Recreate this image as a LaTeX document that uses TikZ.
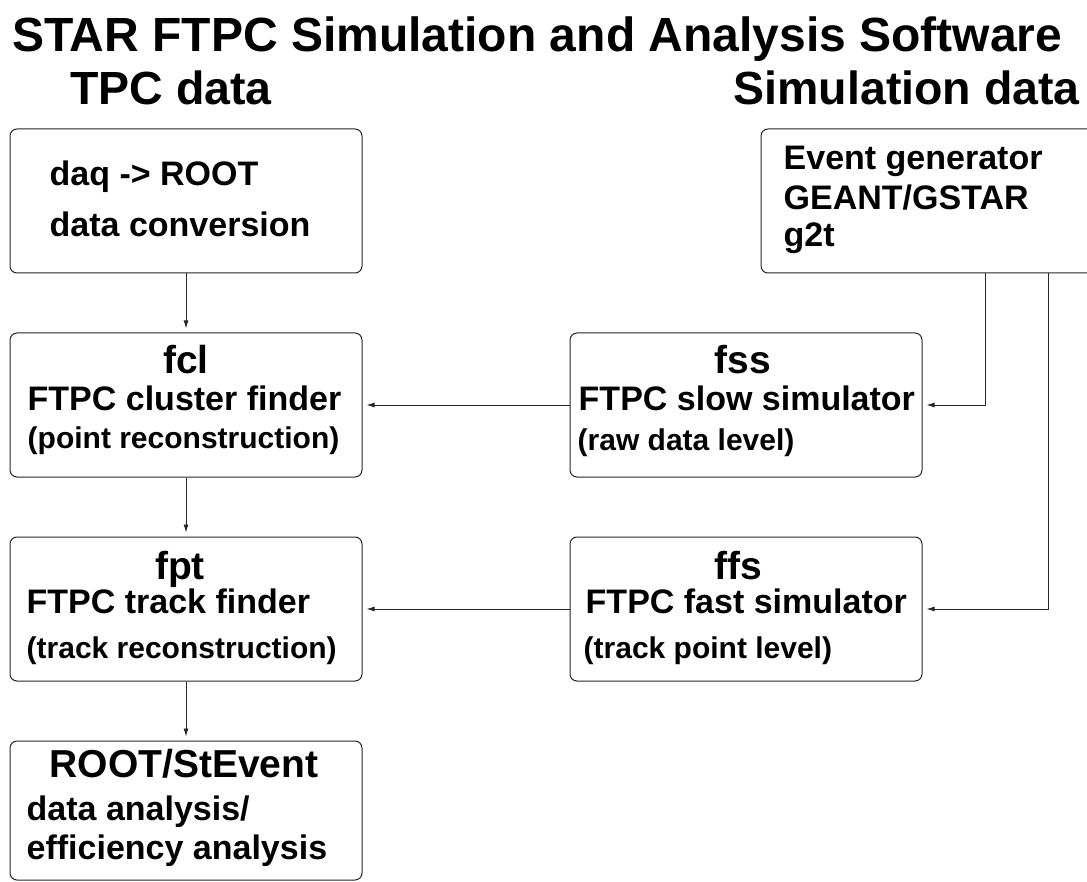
\documentclass[tikz,border=0pt]{standalone}
\usepackage{fontspec}
\setmainfont{Liberation Sans}
\usetikzlibrary{positioning,arrows.meta}

\tikzset{
  box/.style={draw=black!85, line width=1pt, rounded corners=7pt,
    minimum width=352pt, minimum height=144pt, inner sep=0pt},
  flow/.style={draw=black!85, line width=0.9pt,
    -{Latex[length=8pt,width=5pt]}, shorten >=4pt},
  bigtitle/.style={inner sep=0pt, font=\fontsize{48}{48}\selectfont\bfseries},
  subtitle/.style={inner sep=0pt, font=\fontsize{46.5}{46.5}\selectfont\bfseries},
  headtext/.style={inner sep=0pt, font=\fontsize{39}{39}\selectfont\bfseries},
  linetext/.style={inner sep=0pt, font=\fontsize{34}{34}\selectfont\bfseries},
  smalltext/.style={inner sep=0pt, font=\fontsize{30}{30}\selectfont\bfseries},
}

\begin{document}
\begin{tikzpicture}[x=1pt,y=1pt]
\useasboundingbox (0,0) rectangle (1087,-882);
% titles
\node[bigtitle, anchor=base west] (title) at (12,-52) {STAR FTPC Simulation and Analysis Software};
\node[subtitle, anchor=base west] (tpc) at (70,-105) {TPC data};
\node[subtitle, anchor=base east] (sim) at (1080,-105) {Simulation data};
% boxes
\node[box] (daq) at (186,-201) {};
\node[box] (event) at (937,-201) {};
\node[box, below=59pt of daq] (fcl) {};
\node[box, below=59pt of fcl] (fpt) {};
\node[box, minimum height=139pt, below=59pt of fpt] (root) {};
\node[box, right=207pt of fcl] (fss) {};
\node[box, right=207pt of fpt] (ffs) {};
% box texts
\node[linetext, anchor=base west] (daq-a) at ([xshift=40pt,yshift=-57pt]daq.north west) {daq -> ROOT};
\node[linetext, anchor=base west] (daq-b) at ([xshift=40pt,yshift=-108pt]daq.north west) {data conversion};
\node[linetext, anchor=base west] (event-a) at ([xshift=23pt,yshift=-41pt]event.north west) {Event generator};
\node[linetext, anchor=base west] (event-b) at ([xshift=23pt,yshift=-81pt]event.north west) {GEANT/GSTAR};
\node[linetext, anchor=base west] (event-c) at ([xshift=23pt,yshift=-118pt]event.north west) {g2t};
\node[headtext, anchor=base] (fcl-h) at ([yshift=-41pt]fcl.north) {fcl};
\node[linetext, anchor=base west] (fcl-a) at ([xshift=18pt,yshift=-78pt]fcl.north west) {FTPC cluster finder};
\node[smalltext, anchor=base west] (fcl-b) at ([xshift=18pt,yshift=-116pt]fcl.north west) {(point reconstruction)};
\node[headtext, anchor=base] (fss-h) at ([xshift=-3pt,yshift=-41pt]fss.north) {fss};
\node[linetext, anchor=base west] (fss-a) at ([xshift=9pt,yshift=-78pt]fss.north west) {FTPC slow simulator};
\node[smalltext, anchor=base west] (fss-b) at ([xshift=8pt,yshift=-118pt]fss.north west) {(raw data level)};
\node[headtext, anchor=base] (fpt-h) at ([xshift=-6pt,yshift=-43pt]fpt.north) {fpt};
\node[linetext, anchor=base west] (fpt-a) at ([xshift=17pt,yshift=-77pt]fpt.north west) {FTPC track finder};
\node[smalltext, anchor=base west] (fpt-b) at ([xshift=17pt,yshift=-122pt]fpt.north west) {(track reconstruction)};
\node[headtext, anchor=base] (ffs-h) at ([xshift=-8pt,yshift=-43pt]ffs.north) {ffs};
\node[linetext, anchor=base west] (ffs-a) at ([xshift=16pt,yshift=-77pt]ffs.north west) {FTPC fast simulator};
\node[smalltext, anchor=base west] (ffs-b) at ([xshift=14pt,yshift=-122pt]ffs.north west) {(track point level)};
\node[headtext, anchor=base] (root-h) at ([xshift=-2pt,yshift=-37pt]root.north) {ROOT/StEvent};
\node[linetext, anchor=base west] (root-a) at ([xshift=17pt,yshift=-80pt]root.north west) {data analysis/};
\node[linetext, anchor=base west] (root-b) at ([xshift=17pt,yshift=-119pt]root.north west) {efficiency analysis};
% connectors
\draw[flow] (daq) -- (fcl);
\draw[flow] (fcl) -- (fpt);
\draw[flow] (fpt) -- (root);
\draw[flow] (fss) -- (fcl);
\draw[flow] (ffs) -- (fpt);
\draw[flow] ([xshift=48pt]event.south) |- (fss.east);
\draw[flow] ([xshift=111pt]event.south) |- (ffs.east);
\end{tikzpicture}
\end{document}
